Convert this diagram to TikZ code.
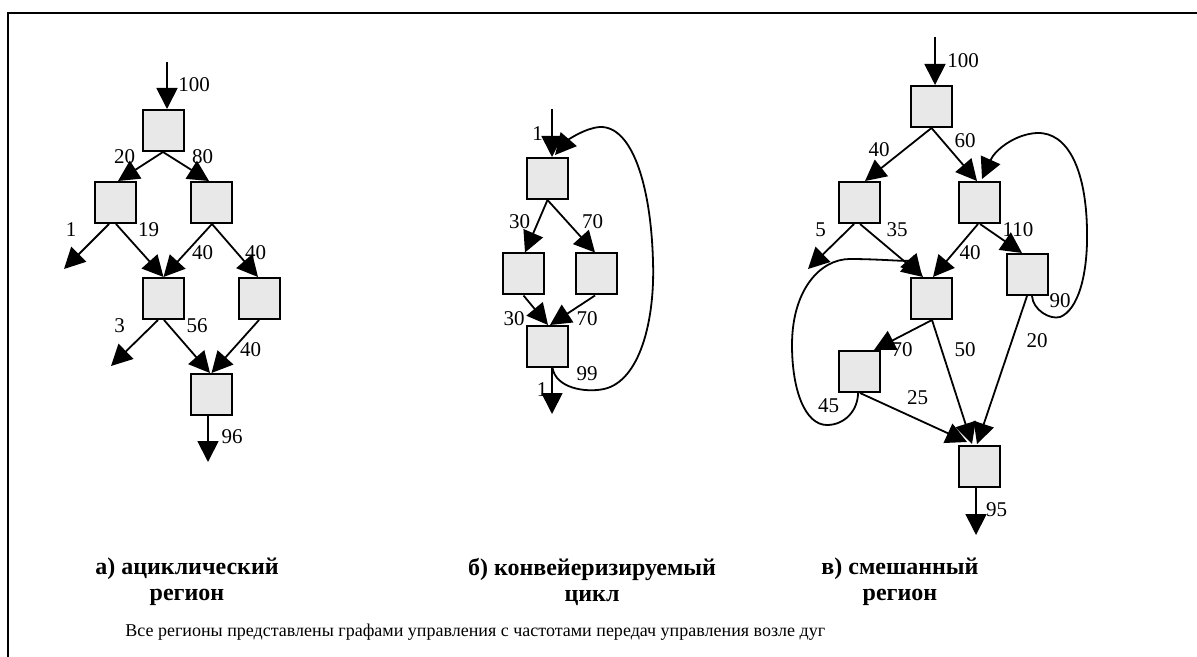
\documentclass[tikz,border=0pt]{standalone}
\usepackage{fontspec}
\setmainfont{Liberation Serif}
\usetikzlibrary{arrows.meta,calc}
\definecolor{boxfill}{RGB}{232,232,232}
\begin{document}
\begin{tikzpicture}[x=0.5pt,y=-0.5pt,
  blk/.style={draw=black,line width=1pt,fill=boxfill,minimum size=20.5pt,inner sep=0pt},
  arr/.style={line width=0.9pt,-{Triangle[length=10.5pt,width=10.5pt]}},
  lbl/.style={font=\fontsize{10.5}{12}\selectfont,inner sep=0pt},
  captext/.style={font=\bfseries\fontsize{12}{13}\selectfont,align=center,inner sep=0pt},
  foot/.style={font=\fontsize{9}{11}\selectfont,inner sep=0pt}]
\useasboundingbox (0,0) rectangle (1197,657);
\draw[line width=1pt] (8,657) -- (8,13.5) -- (1197,13.5);

% ---------- graph a ----------
\node[blk] (A1) at (163.5,130.5) {};
\node[blk] (A2) at (115.5,202.5) {};
\node[blk] (A3) at (211.5,202.5) {};
\node[blk] (A4) at (163.5,298.5) {};
\node[blk] (A5) at (259.5,298.5) {};
\node[blk] (A6) at (211.5,394.5) {};
\coordinate (ain) at (167,62);
\coordinate (a1) at (64,269);
\coordinate (a2) at (111,366);
\coordinate (a3) at (208,462);
\draw[arr] (ain) -- ($(A1.north)+(3.5,0)$);
\draw[arr] ($(A1.south)+(-0.5,0)$) -- ($(A2.north)+(2.5,0)$);
\draw[arr] ($(A1.south)+(-0.5,0)$) -- ($(A3.north)+(-2.5,0)$);
\draw[arr] ($(A2.south)+(-6.5,0)$) -- (a1);
\draw[arr] ($(A2.south)+(0.5,0)$) -- (A4.north);
\draw[arr] ($(A3.south)+(0.5,0)$) -- (A4.north);
\draw[arr] ($(A3.south)+(0.5,0)$) -- ($(A5.north)+(-1.5,0)$);
\draw[arr] ($(A4.south)+(-5.5,0)$) -- (a2);
\draw[arr] ($(A4.south)+(0.5,0)$) -- ($(A6.north)+(-1.5,0)$);
\draw[arr] ($(A5.south)+(-0.5,0)$) -- (A6.north);
\draw[arr] ($(A6.south)+(-3.5,0)$) -- (a3);
\node[lbl] (la0) at (194,85) {100};
\node[lbl] (la1) at (124.5,157) {20};
\node[lbl] (la2) at (202.5,157) {80};
\node[lbl] (la3) at (71,230) {1};
\node[lbl] (la4) at (148.5,230) {19};
\node[lbl] (la5) at (202.5,253) {40};
\node[lbl] (la6) at (255.5,253) {40};
\node[lbl] (la7) at (119.5,325.5) {3};
\node[lbl] (la8) at (197,325.5) {56};
\node[lbl] (la9) at (250.5,349.5) {40};
\node[lbl] (la10) at (232,437) {96};

% ---------- graph b ----------
\node[blk] (B1) at (547.5,178.5) {};
\node[blk] (B2) at (523.5,274) {};
\node[blk] (B3) at (596,274) {};
\node[blk] (B4) at (547.5,346.5) {};
\coordinate (bin) at (552,109);
\coordinate (bout) at (552,414);
\draw[arr] (bin) -- ($(B1.north)+(4.5,0)$);
\draw[arr] (B1.south) -- ($(B2.north)+(1.5,0)$);
\draw[arr] (B1.south) -- ($(B3.north)+(-1,0)$);
\draw[arr] (B2.south) -- ($(B4.north)+(0.5,0)$);
\draw[arr] ($(B3.south)+(-1,0)$) -- ($(B4.north)+(2.5,0)$);
\draw[arr] ($(B4.south)+(4.5,0)$) -- (bout);
\draw[arr] ($(B4.south)+(5,0)$) .. controls (556,388) and (585,393) .. (604,389)
  .. controls (640,381) and (655,320) .. (653,262)
  .. controls (651,185) and (632,126) .. (600,127)
  .. controls (585,128) and (568,140) .. ($(B1.north)+(7.5,-2)$);
\node[lbl] (lb0) at (537.5,134) {1};
\node[lbl] (lb1) at (519.5,222) {30};
\node[lbl] (lb2) at (592.5,222) {70};
\node[lbl] (lb3) at (514,318.5) {30};
\node[lbl] (lb4) at (587,318.5) {70};
\node[lbl] (lb5) at (542,390) {1};
\node[lbl] (lb6) at (587,373.5) {99};

% ---------- graph c ----------
\node[blk] (C1) at (931.5,106.5) {};
\node[blk] (C2) at (859.5,202.5) {};
\node[blk] (C3) at (979.5,202.5) {};
\node[blk] (C4) at (931.5,298.5) {};
\node[blk] (C5) at (1027.5,274.5) {};
\node[blk] (C6) at (859.5,371.5) {};
\node[blk] (C7) at (979.5,466.5) {};
\coordinate (cin) at (935,37);
\coordinate (c1) at (808,269);
\coordinate (cout) at (976,535);
\draw[arr] (cin) -- ($(C1.north)+(3.5,0)$);
\draw[arr] (C1.south) -- ($(C2.north)+(5.5,0)$);
\draw[arr] (C1.south) -- ($(C3.north)+(-2.5,0)$);
\draw[arr] ($(C2.south)+(-5.5,0)$) -- (c1);
\draw[arr] ($(C2.south)+(0.5,0)$) -- ($(C4.north)+(-8.5,0)$);
\draw[arr] ($(C3.south)+(-1.5,0)$) -- ($(C4.north)+(1.5,0)$);
\draw[arr] ($(C3.south)+(0.5,0)$) -- ($(C5.north)+(-5.5,0)$);
\draw[arr] ($(C5.south)+(4.5,0)$) .. controls (1033,310) and (1050,320) .. (1060,317)
  .. controls (1078,310) and (1088,275) .. (1087,230)
  .. controls (1086,170) and (1068,132) .. (1037,133)
  .. controls (1015,134) and (995,150) .. ($(C3.north)+(2.5,-2)$);
\draw[arr] ($(C4.south)+(0.5,0)$) -- ($(C6.north)+(14.5,0)$);
\draw[arr] ($(C4.south)+(0.5,0)$) -- ($(C7.north)+(-7.5,-1)$);
\draw[arr] ($(C5.south)+(-0.5,0)$) -- ($(C7.north)+(-2.5,-1)$);
\draw[arr] ($(C6.south)+(0.5,0)$) -- ($(C7.north)+(-12.5,-3)$);
\draw[arr] ($(C6.south)+(-1.5,0)$) .. controls (858,410) and (845,425) .. (827,425)
  .. controls (805,425) and (792,390) .. (792,345)
  .. controls (792,290) and (820,259) .. (850,259)
  .. controls (880,259) and (910,262) .. ($(C4.north)+(-9.5,-1)$);
\draw[arr] ($(C7.south)+(-3.5,0)$) -- (cout);
\node[lbl] (lc0) at (963,61) {100};
\node[lbl] (lc1) at (879,149.5) {40};
\node[lbl] (lc2) at (965,140.5) {60};
\node[lbl] (lc3) at (820.5,230) {5};
\node[lbl] (lc4) at (897,230) {35};
\node[lbl] (lc5) at (1018,229.5) {110};
\node[lbl] (lc6) at (970,252.5) {40};
\node[lbl] (lc7) at (1060,300.5) {90};
\node[lbl] (lc8) at (902,350) {70};
\node[lbl] (lc9) at (965,350) {50};
\node[lbl] (lc10) at (1037,340.5) {20};
\node[lbl] (lc11) at (917.5,397.5) {25};
\node[lbl] (lc12) at (828.5,405.5) {45};
\node[lbl] (lc13) at (996.5,509.5) {95};

% ---------- captions ----------
\node[captext] (capa) at (187,582) {а) ациклический\\регион};
\node[captext] (capb) at (592,582) {б) конвейеризируемый\\цикл};
\node[captext] (capc) at (900,582) {в) смешанный\\регион};
\node[foot,anchor=base west] (note) at (125,636) {Все регионы представлены графами управления с частотами передач управления возле дуг};
\end{tikzpicture}
\end{document}
